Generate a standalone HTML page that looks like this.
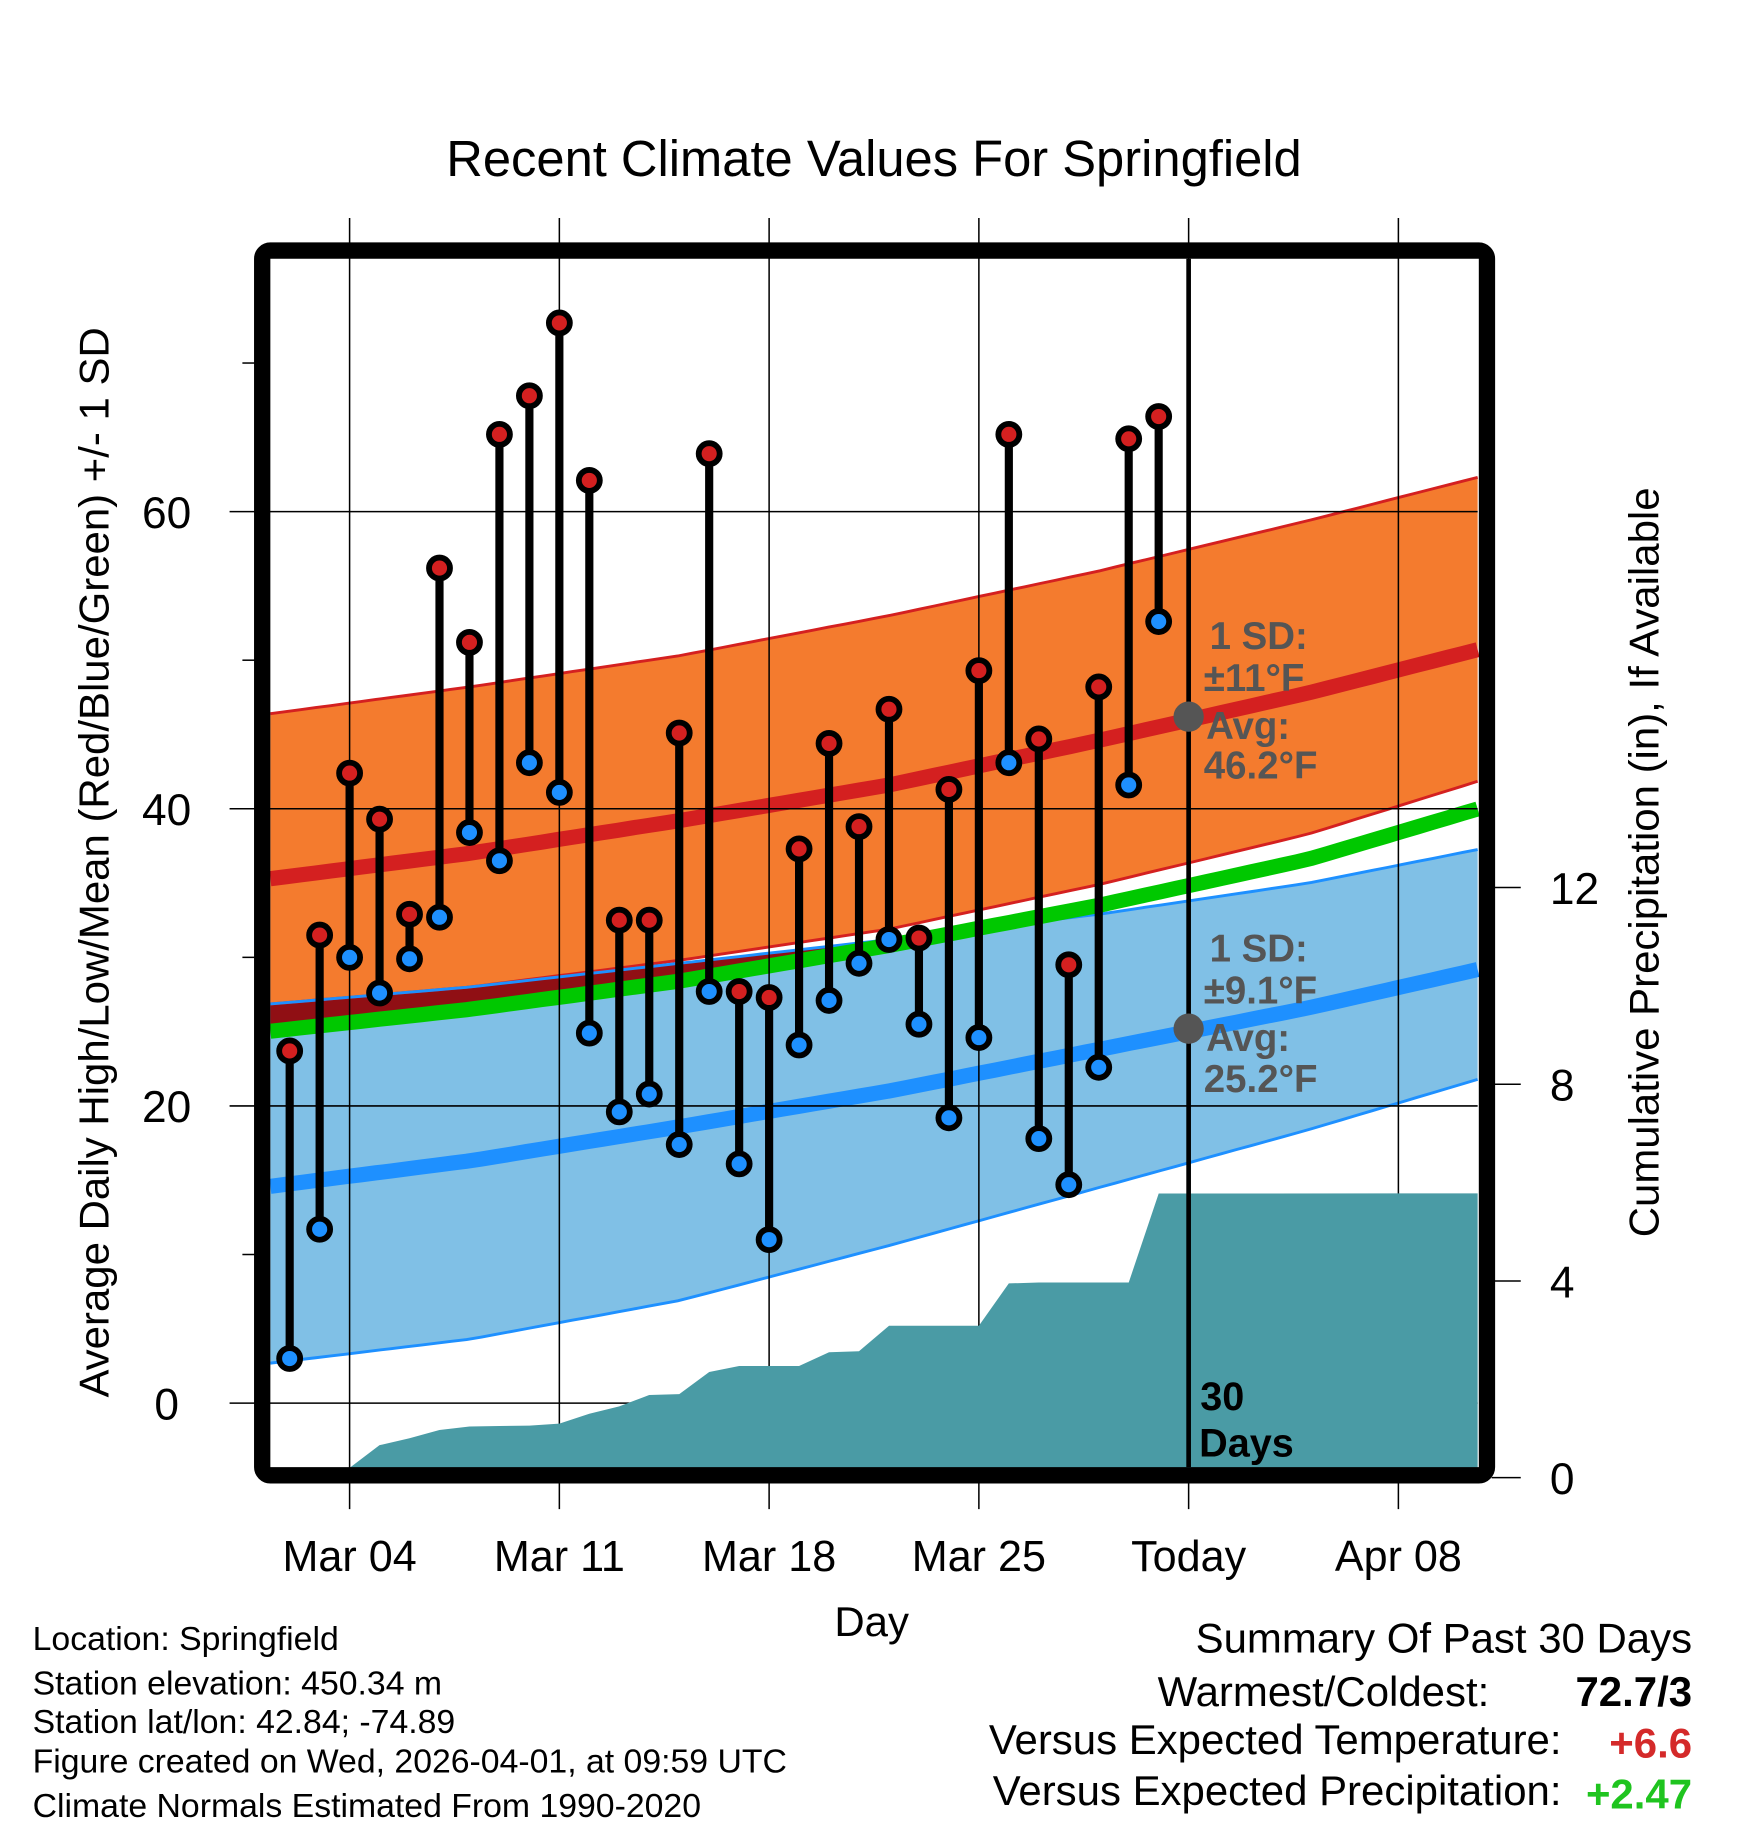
<!DOCTYPE html>
<html><head><meta charset="utf-8"><title>Recent Climate Values For Springfield</title>
<style>
html,body{margin:0;padding:0;background:#fff;}
svg{display:block;font-family:"Liberation Sans",Arial,sans-serif;}
</style></head>
<body>
<svg id="chart" width="1748" height="1828" viewBox="0 0 1500 1568.6" xmlns="http://www.w3.org/2000/svg">
<text x="750" y="151" font-size="43.5" text-anchor="middle">Recent Climate Values For Springfield</text>
<g id="bands"></g>
<g id="grid"></g>
<g id="precip"></g>
<g id="obs"></g>
<g id="axes"></g>
<rect x="225" y="215" width="1051" height="1051" rx="7" fill="none" stroke="#000" stroke-width="14"/>
<g fill="#555" font-weight="bold" font-size="33">
<text x="1038" y="557">1 SD:</text><text x="1033" y="593">±11°F</text><text x="1035" y="634">Avg:</text><text x="1033" y="668">46.2°F</text></g>
<g fill="#555" font-weight="bold" font-size="33">
<text x="1038" y="825">1 SD:</text><text x="1033" y="861">±9.1°F</text><text x="1035" y="902">Avg:</text><text x="1033" y="937">25.2°F</text></g>
<g font-weight="bold" font-size="34"><text x="1030" y="1210">30</text><text x="1029" y="1250">Days</text></g>
<text transform="translate(93,740) rotate(-90)" font-size="36" text-anchor="middle">Average Daily High/Low/Mean (Red/Blue/Green) +/- 1 SD</text>
<text transform="translate(1423,740) rotate(-90)" font-size="36" text-anchor="middle">Cumulative Precipitation (in), If Available</text>
<text x="748" y="1404" font-size="36" text-anchor="middle">Day</text>
<g font-size="29">
<text x="28" y="1416">Location: Springfield</text>
<text x="28" y="1454">Station elevation: 450.34 m</text>
<text x="28" y="1487">Station lat/lon: 42.84; -74.89</text>
<text x="28" y="1521">Figure created on Wed, 2026-04-01, at 09:59 UTC</text>
<text x="28" y="1559">Climate Normals Estimated From 1990-2020</text></g>
<g font-size="36" text-anchor="end">
<text x="1452" y="1418">Summary Of Past 30 Days</text>
<text x="1278" y="1464">Warmest/Coldest:</text>
<text x="1452" y="1464" font-weight="bold">72.7/3</text>
<text x="1340" y="1505">Versus Expected Temperature:</text>
<text x="1452" y="1508" font-weight="bold" fill="#d42a2a">+6.6</text>
<text x="1340" y="1549">Versus Expected Precipitation:</text>
<text x="1452" y="1552" font-weight="bold" fill="#1fc41f">+2.47</text></g>
</svg>
<script>
// Normals at days of March (day 32 = Apr 1)
var normDays = [1, 8, 15, 22, 29, 36, 43];
var highUpper = [46.3, 48.2, 50.3, 53.0, 56.0, 59.4, 63.0];
var highMean  = [35.2, 37.0, 39.2, 41.6, 44.6, 47.8, 51.4];
var highLower = [26.8, 28.0, 29.8, 31.9, 34.9, 38.3, 42.7];
var meanLine  = [24.95, 26.5, 28.4, 30.8, 33.5, 36.6, 40.8];
var lowUpper  = [26.8, 28.0, 29.6, 31.2, 32.9, 35.0, 37.8];
var lowMean   = [14.5, 16.3, 18.6, 21.0, 23.8, 26.6, 29.8];
var lowLower  = [2.6, 4.3, 6.9, 10.6, 14.5, 18.4, 22.6];
// Observations Mar 2 .. Mar 31
var obsDays = [];
for (var d = 2; d <= 31; d++) obsDays.push(d);
var highs = [23.7,31.5,42.4,39.3,32.9,56.2,51.2,65.2,67.8,72.7,62.1,32.5,32.5,45.1,63.9,27.7,27.3,37.3,44.4,38.8,46.7,31.3,41.3,49.3,65.2,44.7,29.5,48.2,64.9,66.4];
var lows  = [3.0,11.7,30.0,27.6,29.9,32.7,38.4,36.5,43.1,41.1,24.9,19.6,20.8,17.4,27.7,16.1,11.0,24.1,27.1,29.6,31.2,25.5,19.2,24.6,43.1,17.8,14.7,22.6,41.6,52.6];
var precip = [0,0,0.2,0.66,0.8,0.97,1.04,1.05,1.06,1.1,1.3,1.45,1.68,1.7,2.15,2.27,2.27,2.27,2.55,2.57,3.09,3.09,3.09,3.09,3.95,3.97,3.97,3.97,3.97,5.78];
var yTicks = [0, 20, 40, 60];
var yMinor = [10, 30, 50, 70];
var y2Ticks = [0, 4, 8, 12];
var xTickDays = [4, 11, 18, 25, 32, 39];
var xTickLabels = ['Mar 04','Mar 11','Mar 18','Mar 25','Today','Apr 08'];
var todayDay = 32, todayHigh = 46.2, todayLow = 25.2;

var NS = 'http://www.w3.org/2000/svg';
var L = 232, R = 1268, T = 222, B = 1259;
function xs(day){ return 300 + (day - 4) * 25.714; }
function ys(v){ return 1204 - v * 12.75; }
function ys2(v){ return 1268 - v * 42.2; }
var dayL = 4 + (L - 300) / 25.714, dayR = 4 + (R - 300) / 25.714;
function interp(arr, day){
  for (var i = 0; i < normDays.length - 1; i++) {
    if (day <= normDays[i+1] || i == normDays.length - 2) {
      var t = (day - normDays[i]) / (normDays[i+1] - normDays[i]);
      return arr[i] + t * (arr[i+1] - arr[i]);
    }
  }
}
var samples = [];
for (var s = 0; s <= 80; s++) samples.push(dayL + (dayR - dayL) * s / 80);
function linePts(arr){ return samples.map(function(d){ return xs(d).toFixed(1) + ',' + ys(interp(arr, d)).toFixed(1); }); }
function mk(tag, attrs, parent){ var e = document.createElementNS(NS, tag); for (var k in attrs) e.setAttribute(k, attrs[k]); parent.appendChild(e); return e; }
var bands = document.getElementById('bands');
function band(up, lo, fill){
  var p = linePts(up).concat(linePts(lo).reverse());
  return mk('polygon', {points: p.join(' '), fill: fill}, bands);
}
var b1 = band(lowUpper, lowLower, '#80c0e6');


var b2 = band(highUpper, highLower, '#f47b2e');


// overlap wedge: only where lowUpper is above the mean line
var wTop = [], wBot = [];
samples.forEach(function(d){
  var u = interp(lowUpper, d), m = interp(meanLine, d);
  if (u > m) { wTop.push(xs(d).toFixed(1) + ',' + ys(u).toFixed(1)); wBot.push(xs(d).toFixed(1) + ',' + ys(m).toFixed(1)); }
});
if (wTop.length > 1) {
  var b3 = mk('polygon', {points: wTop.concat(wBot.reverse()).join(' '), fill: '#900f14'}, bands);
  
  
}
var edges = [[highUpper,'#d42020',2.5],[highLower,'#d42020',2.5],[lowUpper,'#1e90ff',2.5],[lowLower,'#1e90ff',2.5],[highMean,'#d42020',13],[lowMean,'#1e90ff',13],[meanLine,'#00c800',13]];
var names = ['high-upper-edge','high-lower-edge','low-upper-edge','low-lower-edge','high-mean-line','low-mean-line','mean-line'];
edges.forEach(function(e, i){
  var pl = mk('polyline', {points: linePts(e[0]).join(' '), fill: 'none', stroke: e[1], 'stroke-width': e[2]}, bands);
  
  
});
// grid
var grid = document.getElementById('grid');
yTicks.forEach(function(v){
  var g = mk('line', {x1: 197, x2: R, y1: ys(v), y2: ys(v), stroke: '#000', 'stroke-width': 1.3}, grid);
  
  
});
xTickDays.forEach(function(d){
  var g = mk('line', {x1: xs(d), x2: xs(d), y1: 187, y2: 1295, stroke: '#000', 'stroke-width': 1.3}, grid);
  
  
});
// precip
var pg = document.getElementById('precip');
var pp = [L + ',' + ys2(0), L + ',' + ys2(precip[0])];
obsDays.forEach(function(d, i){ pp.push(xs(d).toFixed(1) + ',' + ys2(precip[i]).toFixed(1)); });
pp.push(R + ',' + ys2(precip[precip.length-1]));
pp.push(R + ',' + ys2(0));
var pa = mk('polygon', {points: pp.join(' '), fill: '#4a9ba5'}, pg);


// today line
var tl = mk('line', {x1: xs(todayDay), x2: xs(todayDay), y1: T, y2: B, stroke: '#000', 'stroke-width': 4}, pg);


// observations
var og = document.getElementById('obs');
obsDays.forEach(function(d, i){
  var x = xs(d);
  var st = mk('line', {x1: x, x2: x, y1: ys(highs[i]), y2: ys(lows[i]), stroke: '#000', 'stroke-width': 7}, og);
  
  
  var ch = mk('circle', {cx: x, cy: ys(highs[i]), r: 9, fill: '#d42020', stroke: '#000', 'stroke-width': 5}, og);
  
  
  var cl = mk('circle', {cx: x, cy: ys(lows[i]), r: 9, fill: '#1e90ff', stroke: '#000', 'stroke-width': 5}, og);
  
  
});
var d1 = mk('circle', {cx: xs(todayDay), cy: ys(todayHigh), r: 13, fill: '#555'}, og);


var d2 = mk('circle', {cx: xs(todayDay), cy: ys(todayLow), r: 13, fill: '#555'}, og);


// axes
var ax = document.getElementById('axes');
yTicks.forEach(function(v){
  var t = mk('text', {x: 143, y: ys(v) + 14, 'font-size': 38, 'text-anchor': 'middle'}, ax);
  t.textContent = v;
  
  
});
yMinor.forEach(function(v){
  var t = mk('line', {x1: 208, x2: 220, y1: ys(v), y2: ys(v), stroke: '#000', 'stroke-width': 1.3}, ax);
  
  
});
y2Ticks.forEach(function(v){
  var tk = mk('line', {x1: 1280, x2: 1305, y1: ys2(v), y2: ys2(v), stroke: '#000', 'stroke-width': 1.3}, ax);
  
  
  var t = mk('text', {x: 1330, y: ys2(v) + 14, 'font-size': 38}, ax);
  t.textContent = v;
  
  
});
xTickDays.forEach(function(d, i){
  var t = mk('text', {x: xs(d), y: 1348, 'font-size': 37, 'text-anchor': 'middle'}, ax);
  t.textContent = xTickLabels[i];
  
  
});
</script>
</body></html>
